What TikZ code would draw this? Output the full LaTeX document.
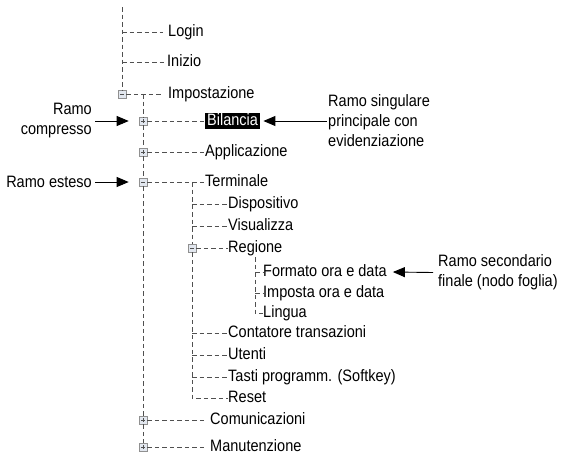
\documentclass[tikz,border=0pt]{standalone}
\usepackage{fontspec}
\setmainfont{Liberation Sans}[FakeStretch=0.88]
\usetikzlibrary{arrows.meta}
\definecolor{dashc}{HTML}{505050}
\definecolor{boxfill}{HTML}{E2E7EF}
\definecolor{boxdraw}{HTML}{909090}
\tikzset{
  fs/.style={font=\fontsize{16.5}{20}\selectfont},
  lbl/.style={fs, anchor=west, inner sep=0pt, text height=12pt, text depth=3.5pt},
  br/.style={draw=dashc, dash pattern=on 4.5pt off 3pt, line width=0.7pt},
  tbox/.style={draw=boxdraw, fill=boxfill, minimum size=8pt, inner sep=0pt, line width=0.6pt},
  minusbox/.style={tbox, path picture={\draw[dashc, line width=0.6pt] ([xshift=2pt]path picture bounding box.west) -- ([xshift=-2pt]path picture bounding box.east);}},
  plusbox/.style={tbox, path picture={\draw[dashc, line width=0.6pt] ([xshift=2pt]path picture bounding box.west) -- ([xshift=-2pt]path picture bounding box.east) ([yshift=2pt]path picture bounding box.south) -- ([yshift=-2pt]path picture bounding box.north);}},
  ann/.style={fs, inner sep=0pt},
  arr/.style={draw=black, line width=0.9pt, -{Triangle[length=12pt, width=10pt]}},
}
\begin{document}
\begin{tikzpicture}[x=1pt, y=-1pt]
\useasboundingbox (0,0) rectangle (561,455);
% level 1
\coordinate (top) at (122,7);
\node[lbl] (login) at (168,32) {Login};
\node[lbl] (inizio) at (167,62) {Inizio};
\node[minusbox] (bImp) at (122,94) {};
\node[lbl] (imp) at (168,94) {Impostazione};
\draw[br] (top) -- (bImp.north);
\draw[br] (login.west -| top) -- ([xshift=-5pt]login.west);
\draw[br] (inizio.west -| top) -- ([xshift=-3pt]inizio.west);
\draw[br] (bImp.east) -- ([xshift=-7pt]imp.west);
% level 2
\coordinate (jImp) at (143,94);
\node[plusbox] (bBil) at (143,121) {};
\node[lbl, fill=black, text=white, inner xsep=2pt, text width=51pt, align=left] (bil) at (205,121) {Bilancia};
\node[plusbox] (bApp) at (143,152) {};
\node[lbl] (app) at (205,152) {Applicazione};
\node[minusbox] (bTer) at (143,182) {};
\node[lbl] (ter) at (205,182) {Terminale};
\node[plusbox] (bCom) at (143,420) {};
\node[lbl] (com) at (210,420) {Comunicazioni};
\node[plusbox] (bMan) at (143,447) {};
\node[lbl] (man) at (210,447) {Manutenzione};
\draw[br] (jImp) -- (bBil.north);
\draw[br] (bBil.south) -- (bApp.north);
\draw[br] (bApp.south) -- (bTer.north);
\draw[br] (bTer.south) -- (bCom.north);
\draw[br] (bCom.south) -- (bMan.north);
\draw[br] (bBil.east) -- (bil.west);
\draw[br] (bApp.east) -- (app.west);
\draw[br] (bTer.east) -- (ter.west);
\draw[br] (bCom.east) -- ([xshift=-4pt]com.west);
\draw[br] (bMan.east) -- ([xshift=-4pt]man.west);
% level 3
\coordinate (jTer) at (192,182);
\node[lbl] (disp) at (228,204) {Dispositivo};
\node[lbl] (vis) at (228,226) {Visualizza};
\node[minusbox] (bReg) at (192,248) {};
\node[lbl] (reg) at (228,248) {Regione};
\node[lbl] (cont) at (228,333) {Contatore transazioni};
\node[lbl] (ute) at (228,355) {Utenti};
\node[lbl] (tasti) at (228,377) {Tasti programm. (Softkey)};
\node[lbl] (reset) at (228,398) {Reset};
\coordinate (jReset) at (192,398);
\draw[br] (jTer) -- (bReg.north);
\draw[br] (bReg.south) -- (jReset) -- (reset.west);
\draw[br] (disp.west -| jTer) -- (disp.west);
\draw[br] (vis.west -| jTer) -- (vis.west);
\draw[br] (bReg.east) -- (reg.west);
\draw[br] (cont.west -| jTer) -- (cont.west);
\draw[br] (ute.west -| jTer) -- (ute.west);
\draw[br] (tasti.west -| jTer) -- (tasti.west);
% level 4
\coordinate (jReg) at (255,257);
\node[lbl] (form) at (263,272) {Formato ora e data};
\node[lbl] (impo) at (263,293) {Imposta ora e data};
\node[lbl] (ling) at (263,313) {Lingua};
\coordinate (jLing) at (255,313);
\draw[br] (jReg) -- (jLing) -- (ling.west);
\draw[br] (form.west -| jReg) -- (form.west);
\draw[br] (impo.west -| jReg) -- (impo.west);
% annotations
\node[ann, anchor=east, align=right] (rc) at (92,121) {Ramo\\compresso};
\node[ann, anchor=east] (re) at (92,182) {Ramo esteso};
\node[ann, anchor=west, align=left] (rs) at (328,121) {Ramo singulare\\principale con\\evidenziazione};
\node[ann, anchor=west, align=left] (rsec) at (438,272.5) {Ramo secondario\\finale (nodo foglia)};
\draw[arr] ([xshift=3pt]rc.east) -- ([xshift=-10pt]bBil.west);
\draw[arr] ([xshift=3pt]re.east) -- ([xshift=-10pt]bTer.west);
\draw[arr] ([xshift=-1pt]rs.west) -- ([xshift=3pt]bil.east);
\draw[arr] ([xshift=-5pt]rsec.west) -- ([xshift=6pt]form.east);
\end{tikzpicture}
\end{document}
